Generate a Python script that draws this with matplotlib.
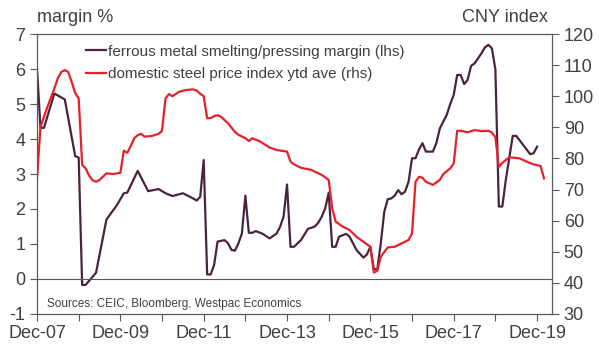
import matplotlib.pyplot as plt

plt.rcParams['font.family'] = ['Liberation Sans', 'DejaVu Sans']
plt.rcParams['axes.unicode_minus'] = False

# month offsets counted from Dec-07
margin_month = [0, 1, 2, 5, 8, 11, 12, 13, 14, 17, 20, 23, 25, 26, 29, 32, 35, 37, 39, 42,
                45, 46, 47, 48, 49, 50, 51, 52, 54, 55, 56, 57, 58, 59, 60, 61, 62, 63, 65, 67,
                69, 70, 71, 72, 73, 74, 76, 78, 80, 81, 82, 83, 84, 85, 86, 87, 89, 90, 92, 94,
                95, 96, 97, 98, 99, 100, 101, 102, 103, 104, 105, 106, 107, 108, 109, 110, 111, 112, 113,
                114, 115, 116, 117, 118, 119, 120, 121, 122, 123, 124, 125, 126, 128, 129, 130, 131, 132,
                133, 134, 135, 137, 138, 140, 142, 143, 144]
margin = [6.0, 4.32, 4.32, 5.3, 5.13, 3.51, 3.47, -0.17, -0.17, 0.18, 1.7, 2.11, 2.45, 2.47, 3.09, 2.51, 2.57, 2.45, 2.37, 2.45,
          2.3, 2.24, 2.35, 3.4, 0.13, 0.13, 0.4, 1.07, 1.11, 1.02, 0.83, 0.81, 1.02, 1.3, 2.38, 1.32, 1.32, 1.37, 1.29, 1.16,
          1.3, 1.49, 1.78, 2.7, 0.92, 0.92, 1.11, 1.43, 1.5, 1.61, 1.78, 2.02, 2.47, 0.92, 0.92, 1.21, 1.29, 1.21, 0.83, 0.61,
          0.7, 0.92, 0.28, 0.28, 1.02, 1.92, 2.28, 2.3, 2.38, 2.54, 2.42, 2.5, 2.78, 3.45, 3.45, 3.7, 3.88, 3.64, 3.64,
          3.64, 3.88, 4.3, 4.5, 4.69, 5.0, 5.26, 5.83, 5.83, 5.57, 5.69, 6.09, 6.16, 6.45, 6.62, 6.69, 6.59, 5.99,
          2.07, 2.07, 2.83, 4.09, 4.09, 3.83, 3.57, 3.59, 3.78]

steel_month = [0, 1, 3, 5, 6, 7, 8, 9, 10, 11, 12, 13, 14, 15, 16, 17, 18, 20, 22, 24,
               25, 26, 27, 28, 29, 30, 31, 33, 35, 36, 37, 38, 39, 41, 43, 45, 46, 47, 48, 49,
               50, 51, 52, 53, 55, 57, 58, 60, 61, 62, 63, 64, 67, 69, 72, 73, 74, 76, 79, 82,
               84, 85, 86, 88, 90, 92, 94, 96, 97, 98, 99, 101, 103, 105, 107, 108, 109, 110, 111, 112,
               113, 114, 116, 117, 119, 120, 121, 122, 124, 126, 128, 130, 131, 132, 133, 134, 136, 139, 141, 143,
               145, 146]
steel_index = [73.6, 90.2, 96.6, 102.5, 105.8, 107.8, 108.4, 107.8, 104.5, 101.0, 99.3, 77.9, 76.8, 74.5, 73.0, 72.5, 73.1, 75.2, 75.0, 75.4,
               82.5, 81.8, 84.0, 86.5, 87.5, 87.9, 87.0, 87.2, 87.9, 88.9, 99.3, 100.7, 100.0, 101.5, 102.0, 102.2, 101.8, 100.8, 100.0, 92.9,
               93.0, 93.6, 93.9, 93.4, 91.3, 88.5, 87.6, 86.5, 85.6, 86.5, 86.0, 85.6, 83.5, 82.7, 82.2, 79.0, 78.1, 77.0, 76.3, 74.7,
               73.1, 64.0, 59.7, 58.1, 57.0, 54.8, 53.2, 51.6, 43.3, 43.9, 48.4, 51.4, 51.6, 52.7, 53.8, 55.9, 72.5, 74.1, 73.8, 72.5,
               72.0, 71.5, 73.1, 75.0, 76.8, 78.4, 88.9, 88.9, 88.4, 89.1, 88.8, 88.9, 88.3, 86.8, 77.3, 78.6, 80.4, 80.0, 79.0, 78.1,
               77.6, 73.6]

tick_months = list(range(0, 145, 12))
tick_labels = ['Dec-07', '', 'Dec-09', '', 'Dec-11', '', 'Dec-13', '', 'Dec-15', '', 'Dec-17', '', 'Dec-19']

grey = '#595959'
txt = '#404040'
purple = '#4a2341'
red = '#e8202a'

fig = plt.figure(figsize=(5.99, 3.45), dpi=100)
ax1 = fig.add_axes([0.0618, 0.0899, 0.8597, 0.8115])
ax2 = ax1.twinx()

l1, = ax1.plot(margin_month, margin, color=purple, lw=1.6,
               label='ferrous metal smelting/pressing margin (lhs)')
l2, = ax2.plot(steel_month, steel_index, color=red, lw=1.6,
               label='domestic steel price index ytd ave (rhs)')
ax1.axhline(0, color=grey, lw=0.8)

ax1.set_xlim(0, 148.3)
ax1.set_ylim(-1, 7)
ax2.set_ylim(30, 120)
ax1.set_yticks(range(-1, 8))
ax2.set_yticks(range(30, 121, 10))
ax1.set_xticks(tick_months)
ax1.set_xticklabels(tick_labels)

for ax in (ax1, ax2):
    for s in ax.spines.values():
        s.set_color(grey)
        s.set_linewidth(0.8)
    ax.tick_params(colors=grey, labelcolor=txt, labelsize=13, length=5, width=0.8, direction='out')
ax1.tick_params(axis='x', pad=3)

fig.text(0.0618, 0.925, 'margin %', fontsize=13, color=txt, ha='left', va='bottom')
fig.text(0.915, 0.925, 'CNY index', fontsize=13, color=txt, ha='right', va='bottom')

leg = ax2.legend(handles=[l1, l2], loc='upper left', bbox_to_anchor=(0.075, 1.0),
                 frameon=False, fontsize=11, handlelength=1.3, handletextpad=0.1,
                 labelspacing=0.55, borderaxespad=0.3)
for t in leg.get_texts():
    t.set_color(txt)

ax1.text(0.02, 0.015, 'Sources: CEIC, Bloomberg, Westpac Economics', transform=ax1.transAxes,
         fontsize=8.5, color=txt, ha='left', va='bottom')

fig.savefig('out.png', dpi=100)
